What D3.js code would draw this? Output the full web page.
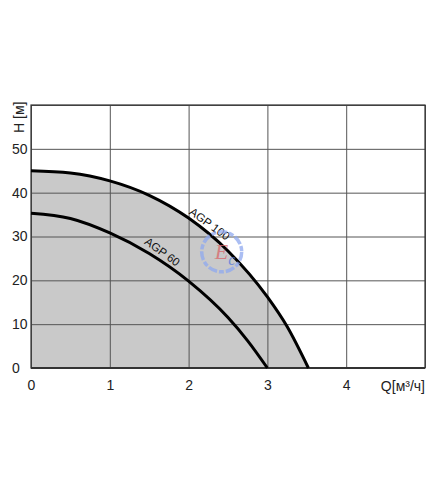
<!DOCTYPE html>
<html>
<head>
<meta charset="utf-8">
<script src="https://cdn.jsdelivr.net/npm/d3@7"></script>
<style>
    body { margin: 0; background: #fff; }
    #pump-graph { width: 443px; height: 498px; }
    .tick text { font-family: "Liberation Sans Narrow", "Arial Narrow", "Liberation Sans", sans-serif; font-size: 14px; fill: #222; }
</style>
</head>
<body>
<div id="pump-graph"></div>
<script>
// Curve data (Q in m3/h, H in m)
const flowAGP100 = [0, 0.5, 1, 1.5, 2, 2.5, 3, 3.25, 3.52];
const headAGP100 = [45, 44.5, 42.7, 39.4, 34.2, 26.7, 16.2, 9.45, 0];
const flowAGP60 = [0, 0.5, 1, 1.5, 2, 2.5, 2.75, 3.0];
const headAGP60 = [35.3, 34.1, 30.8, 26.1, 19.8, 11.5, 6.2, 0];
const xTicks = [0, 1, 2, 3, 4, 5];
const yTicks = [0, 10, 20, 30, 40, 50, 60];
const xTickLabels = ["0", "1", "2", "3", "4", ""];
const yTickLabels = ["0", "10", "20", "30", "40", "50", ""];
const seriesNames = ["AGP 100", "AGP 60"];
const labelAt = [2.2, 1.6];

const FONT = "'Liberation Sans Narrow', 'Arial Narrow', 'Liberation Sans', sans-serif";

/**
 * Sets up the svg and the inner plot group.
 */
function initializeSVG() {
    const container = document.getElementById("pump-graph");
    const margin = { top: 105, right: 18, bottom: 130, left: 31 };
    const width = container.clientWidth - margin.left - margin.right;
    const height = container.clientHeight - margin.top - margin.bottom;
    const root = d3.select("#pump-graph")
        .append("svg")
        .attr("width", container.clientWidth)
        .attr("height", container.clientHeight);
    const svg = root.append("g")
        .attr("transform", `translate(${margin.left},${margin.top})`);
    return { root, svg, width, height, margin };
}

function createScales(width, height) {
    const x = d3.scaleLinear().domain([0, 5]).range([0, width]);
    const y = d3.scaleLinear().domain([0, 60]).range([height, 0]);
    return { x, y };
}

function toPoints(qs, hs) {
    return qs.map((q, i) => ({ q: q, h: hs[i] }));
}

/**
 * Grey area under the bigger pump curve.
 */
function drawArea(svg, data, x, y) {
    const area = d3.area()
        .x(d => x(d.q))
        .y0(y(0))
        .y1(d => y(d.h))
        .curve(d3.curveMonotoneX);
    svg.append("path")
        .datum(data)
        .attr("fill", "#c9c9c9")
        .attr("d", area);
}

function addGridLines(svg, x, y, width, height) {
    svg.append("g")
        .attr("transform", `translate(0,${height})`)
        .call(d3.axisBottom(x).tickValues(xTicks).tickSize(-height).tickFormat(""))
        .call(g => g.select(".domain").remove())
        .call(g => g.selectAll("line").attr("stroke", "#555").attr("stroke-width", 1));
    svg.append("g")
        .call(d3.axisLeft(y).tickValues(yTicks).tickSize(-width).tickFormat(""))
        .call(g => g.select(".domain").remove())
        .call(g => g.selectAll("line").attr("stroke", "#555").attr("stroke-width", 1));
    svg.append("rect")
        .attr("width", width)
        .attr("height", height)
        .attr("fill", "none")
        .attr("stroke", "#333")
        .attr("stroke-width", 1.2);
    svg.append("line")
        .attr("x1", 0).attr("x2", width)
        .attr("y1", height).attr("y2", height)
        .attr("stroke", "#333")
        .attr("stroke-width", 2);
}

function appendAxes(svg, x, y, height) {
    svg.append("g")
        .attr("transform", `translate(0,${height})`)
        .call(d3.axisBottom(x).tickValues(xTicks).tickSize(0).tickPadding(12)
            .tickFormat((d, i) => xTickLabels[i]))
        .call(g => g.select(".domain").remove());
    svg.append("g")
        .call(d3.axisLeft(y).tickValues(yTicks).tickSize(0)
            .tickFormat((d, i) => yTickLabels[i]))
        .call(g => g.select(".domain").remove())
        .call(g => g.selectAll("text").attr("text-anchor", "start").attr("x", -19));
}

function drawLines(svg, sets, x, y) {
    const line = d3.line()
        .x(d => x(d.q))
        .y(d => y(d.h))
        .curve(d3.curveMonotoneX);
    sets.forEach(set => {
        svg.append("path")
            .datum(set)
            .attr("fill", "none")
            .attr("stroke", "#000")
            .attr("stroke-width", 3)
            .attr("d", line);
    });
}

// names written along the curves
function drawCurveLabels(svg, sets, x, y) {
    sets.forEach((set, i) => {
        const q = labelAt[i];
        const h = d3.scaleLinear().domain(set.map(d => d.q)).range(set.map(d => d.h))(q);
        svg.append("text")
            .attr("transform", `translate(${x(q)},${y(h)}) rotate(36)`)
            .attr("dy", -5)
            .attr("text-anchor", "middle")
            .attr("font-family", "'Liberation Sans', Arial, sans-serif")
            .attr("font-size", 11.5)
            .attr("fill", "#111")
            .text(seriesNames[i]);
    });
}

function drawAxisTitles(root, margin, width) {
    root.append("text")
        .attr("transform", `translate(24,${margin.top + 28}) rotate(-90)`)
        .attr("font-family", FONT)
        .attr("font-size", 14)
        .attr("fill", "#222")
        .text("H [м]");
    root.append("text")
        .attr("x", margin.left + width)
        .attr("y", 391)
        .attr("text-anchor", "end")
        .attr("font-family", FONT)
        .attr("font-size", 14)
        .attr("fill", "#222")
        .text("Q[м³/ч]");
}

// faint watermark logo over the chart
function drawWatermark(svg, x, y) {
    const cx = x(2.42), cy = y(26.5);
    const g = svg.append("g").attr("opacity", 0.75);
    g.append("circle")
        .attr("cx", cx).attr("cy", cy).attr("r", 20)
        .attr("fill", "none")
        .attr("stroke", "#8fa9f0")
        .attr("stroke-width", 3.5)
        .attr("stroke-dasharray", "9 2 5 2");
    const t = g.append("text")
        .attr("x", cx - 7).attr("y", cy + 7)
        .attr("font-family", "'Liberation Serif', serif")
        .attr("font-style", "italic");
    t.append("tspan").attr("font-size", 22).attr("fill", "#d9666a").text("E");
    t.append("tspan").attr("font-size", 16).attr("dy", 6).attr("fill", "#5577dd").text("c");
}

function addPumpGraph() {
    const { root, svg, width, height, margin } = initializeSVG();
    const { x, y } = createScales(width, height);
    const agp100 = toPoints(flowAGP100, headAGP100);
    const agp60 = toPoints(flowAGP60, headAGP60);
    drawArea(svg, agp100, x, y);
    addGridLines(svg, x, y, width, height);
    appendAxes(svg, x, y, height);
    drawLines(svg, [agp100, agp60], x, y);
    drawCurveLabels(svg, [agp100, agp60], x, y);
    drawWatermark(svg, x, y);
    drawAxisTitles(root, margin, width);
}

addPumpGraph();
</script>
</body>
</html>
